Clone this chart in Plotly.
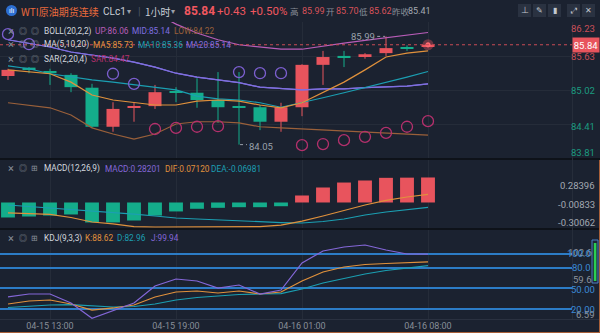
import plotly.graph_objects as go

# ---------------- data ----------------
times = ["04-15 11:00", "04-15 12:00", "04-15 13:00", "04-15 14:00", "04-15 15:00",
         "04-15 16:00", "04-15 17:00", "04-15 18:00", "04-15 19:00", "04-15 20:00",
         "04-15 21:00", "04-15 22:00", "04-15 23:00", "04-16 00:00", "04-16 01:00",
         "04-16 02:00", "04-16 03:00", "04-16 04:00", "04-16 06:00", "04-16 07:00",
         "04-16 08:00"]
tick_times = ["04-15 13:00", "04-15 19:00", "04-16 01:00", "04-16 08:00"]

opens = [85.28, 85.415, 85.37, 85.30, 85.07, 84.37, 84.71, 84.74, 85.00, 84.98, 84.85,
         84.73, 84.72, 84.46, 84.72, 85.48, 85.64, 85.62, 85.69, 85.79, 85.80]
closes = [85.39, 85.40, 85.33, 85.08, 84.37, 84.69, 84.73, 84.99, 84.98, 84.85, 84.72,
          84.71, 84.46, 84.72, 85.48, 85.62, 85.61, 85.67, 85.78, 85.77, 85.84]
highs = [85.41, 85.44, 85.41, 85.33, 85.14, 84.81, 84.81, 85.12, 85.08, 85.24, 85.35,
         85.35, 84.76, 84.80, 85.49, 85.73, 85.73, 85.69, 85.99, 85.83, 85.87]
lows = [85.21, 85.33, 85.12, 84.99, 84.35, 84.28, 84.46, 84.69, 84.81, 84.71, 84.44,
        84.05, 84.31, 84.28, 84.56, 85.12, 85.44, 85.59, 85.64, 85.73, 85.79]

boll_up = [86.80, 86.78, 86.76, 86.74, 86.72, 86.65, 86.57, 86.41, 86.21, 86.05, 85.93,
           85.84, 85.80, 85.76, 85.76, 85.82, 85.87, 85.92, 85.97, 86.02, 86.06]
boll_mid = [85.93, 85.87, 85.80, 85.71, 85.66, 85.60, 85.53, 85.44, 85.33, 85.26, 85.21,
            85.16, 85.08, 85.05, 85.03, 85.05, 85.05, 85.07, 85.08, 85.10, 85.14]
boll_low = [84.80, 84.76, 84.71, 84.58, 84.35, 84.24, 84.15, 84.24, 84.42, 84.46, 84.46,
            84.44, 84.37, 84.35, 84.33, 84.31, 84.30, 84.28, 84.26, 84.23, 84.22]
ma5 = [85.39, 85.35, 85.32, 85.17, 84.94, 84.85, 84.80, 84.76, 84.76, 84.83, 84.85,
       84.83, 84.76, 84.71, 84.80, 84.99, 85.17, 85.39, 85.62, 85.69, 85.73]
ma10 = [85.46, 85.41, 85.32, 85.26, 85.21, 85.17, 85.12, 85.07, 85.03, 84.92, 84.87,
        84.85, 84.80, 84.72, 84.80, 84.89, 84.98, 85.07, 85.17, 85.26, 85.36]
ma20 = [85.93, 85.87, 85.80, 85.71, 85.66, 85.60, 85.53, 85.44, 85.33, 85.26, 85.21,
        85.16, 85.08, 85.05, 85.03, 85.05, 85.05, 85.07, 85.08, 85.10, 85.14]
sar = [86.03, 85.85, None, None, None, 85.32, 85.14, 84.33, 84.35, 84.37, 84.38,
       85.35, 85.33, 85.33, 84.04, 84.06, 84.13, 84.19, 84.26, 84.37, 84.47]

macd_hist = [-0.169, -0.158, -0.147, -0.135, -0.225, -0.225, -0.203, -0.147, -0.101, -0.071,
             -0.060, -0.053, -0.053, -0.042, 0.079, 0.169, 0.225, 0.248, 0.278, 0.280, 0.282]
dif = [-0.118, -0.124, -0.135, -0.169, -0.220, -0.242, -0.271, -0.276, -0.276, -0.276, -0.276,
       -0.276, -0.271, -0.254, -0.209, -0.152, -0.090, -0.028, 0.023, 0.062, 0.092]
dea = [-0.028, -0.045, -0.062, -0.073, -0.090, -0.107, -0.130, -0.152, -0.175, -0.186, -0.197,
       -0.209, -0.220, -0.226, -0.231, -0.214, -0.186, -0.141, -0.107, -0.085, -0.056]

kdj_k = [27.3, 31.6, 33.1, 27.3, 18.5, 21.5, 25.8, 37.5, 44.7, 46.2, 43.3, 46.2, 41.8, 44.7,
         60.7, 73.8, 81.1, 84.7, 86.2, 86.9, 88.62]
kdj_d = [22.2, 24.4, 25.8, 26.5, 24.4, 22.9, 23.6, 27.3, 33.1, 36.7, 38.9, 41.1, 41.8, 42.5,
         49.1, 57.8, 64.4, 70.9, 76.0, 79.6, 82.96]
kdj_j = [37.5, 41.8, 41.8, 28.7, 6.59, 17.1, 28.7, 53.5, 63.6, 60.7, 50.5, 54.9, 41.8, 47.6,
         86.9, 104.4, 110.2, 113.1, 105.8, 100.0, 99.94]

main_grid = [86.23, 85.63, 85.02, 84.41, 83.81]
kdj_levels = [100, 80, 50, 20]

# ---------------- styles ----------------
W, H = 600, 333
BG = "#1b2230"
GRID = "#252c39"
RED = "#e8545d"
GREEN = "#14ad8b"
C_UP = "#b95db8"
C_MID = "#7f6fe0"
C_LOW = "#9a603a"
C_MA5 = "#e0913c"
C_MA10 = "#1b9fb2"
C_SAR_DN = "#7c5fd0"
C_SAR_UP = "#b4306c"
C_J = "#8467d8"
TXT = "#d3d7de"
GREY = "#8a909a"
FONT = "Roboto, Noto Sans, Noto Sans CJK SC"
CJK = "Noto Sans CJK SC, Noto Sans"
LEG = 8.3

x = list(range(len(times)))
tickvals = [times.index(t) for t in tick_times]


def px(v):
    return v / W


def py(v):
    return 1 - v / H


fig = go.Figure()

# candle wicks
for col, cond in ((RED, lambda o, c: c >= o), (GREEN, lambda o, c: c < o)):
    wx, wy = [], []
    for i in x:
        if cond(opens[i], closes[i]):
            wx += [i, i, None]
            wy += [lows[i], highs[i], None]
    fig.add_trace(go.Scatter(x=wx, y=wy, mode="lines", line=dict(color=col, width=1),
                             yaxis="y", hoverinfo="skip"))

# candle bodies
body_base = [min(o, c) for o, c in zip(opens, closes)]
body_h = [max(abs(c - o), 0.03) for o, c in zip(opens, closes)]
body_col = [RED if c >= o else GREEN for o, c in zip(opens, closes)]
fig.add_trace(go.Bar(x=x, y=body_h, base=body_base, width=0.62, marker=dict(color=body_col, line=dict(width=0)),
                     yaxis="y", hoverinfo="skip"))

# overlays
for arr, col in ((boll_low, C_LOW), (boll_mid, C_MID), (ma20, C_MID), (boll_up, C_UP), (ma10, C_MA10), (ma5, C_MA5)):
    fig.add_trace(go.Scatter(x=x, y=arr, mode="lines", line=dict(color=col, width=1.2), yaxis="y", hoverinfo="skip"))

sar_col = [C_SAR_DN if (s is not None and s > c) else C_SAR_UP for s, c in zip(sar, closes)]
fig.add_trace(go.Scatter(x=x, y=sar, mode="markers",
                         marker=dict(symbol="circle-open", size=11, color=sar_col, line=dict(width=1.3)),
                         yaxis="y", hoverinfo="skip"))

# last price glow
fig.add_trace(go.Scatter(x=[x[-1]], y=[closes[-1]], mode="markers",
                         marker=dict(size=11, color="rgba(255,90,100,0.35)"), yaxis="y", hoverinfo="skip"))
fig.add_trace(go.Scatter(x=[x[-1]], y=[closes[-1]], mode="markers",
                         marker=dict(size=5, color="#ff6a72"), yaxis="y", hoverinfo="skip"))

# MACD
fig.add_trace(go.Bar(x=x, y=macd_hist, width=0.66,
                     marker=dict(color=[RED if v >= 0 else GREEN for v in macd_hist], line=dict(width=0)),
                     yaxis="y2", hoverinfo="skip"))
fig.add_trace(go.Scatter(x=x, y=dea, mode="lines", line=dict(color=C_MA10, width=1.2), yaxis="y2", hoverinfo="skip"))
fig.add_trace(go.Scatter(x=x, y=dif, mode="lines", line=dict(color=C_MA5, width=1.2), yaxis="y2", hoverinfo="skip"))

# KDJ
fig.add_trace(go.Scatter(x=x, y=kdj_d, mode="lines", line=dict(color=C_MA10, width=1.2), yaxis="y3", hoverinfo="skip"))
fig.add_trace(go.Scatter(x=x, y=kdj_k, mode="lines", line=dict(color=C_MA5, width=1.2), yaxis="y3", hoverinfo="skip"))
fig.add_trace(go.Scatter(x=x, y=kdj_j, mode="lines", line=dict(color=C_J, width=1.2), yaxis="y3", hoverinfo="skip"))

ann = []
shapes = []


def text(s, x_px, y_px, color, size=9, anchor="left", family=FONT):
    ann.append(dict(text=s, x=px(x_px), y=py(y_px), xref="paper", yref="paper", xanchor=anchor,
                    yanchor="middle", showarrow=False, font=dict(color=color, size=size, family=family)))


# header
shapes.append(dict(type="circle", xref="paper", yref="paper", x0=px(6), x1=px(17), y0=py(16), y1=py(5),
                   fillcolor="#2d6fd3", line=dict(width=0)))
text("ılı", 11.5, 10.5, "#ffffff", 7, "center")
text("WTI原油期货连续", 19, 11, "#e96a3c", 10, family=CJK)
text("CLc1", 101, 11, "#c9ced6", 10)
text("▾", 129, 11, "#9aa0aa", 8, "center")
text("|", 139, 11, "#4a5262", 11, "center")
text("1小时", 143, 11, "#c9ced6", 10, family=CJK)
text("▾", 173, 11, "#9aa0aa", 8, "center")
ann.append(dict(text="<b>85.84</b>", x=px(182), y=py(11), xref="paper", yref="paper", xanchor="left",
                yanchor="middle", showarrow=False, font=dict(color="#f0575f", size=12, family=FONT)))
text("+0.43", 215, 11, "#f0575f", 11.5)
text("+0.50%", 248, 11, "#f0575f", 11.5)
text("高", 288, 11, GREY, 8.5, family=CJK)
text("85.99", 300, 11, "#d8525a", 9)
text("开", 323.5, 11, GREY, 8.5, family=CJK)
text("85.70", 334, 11, "#d8525a", 9)
text("低", 357, 11, GREY, 8.5, family=CJK)
text("85.62", 367, 11, "#d8525a", 9)
text("昨收", 390, 11, GREY, 8.5, family=CJK)
text("85.41", 406, 11, "#a4aab3", 9)

for (x0, x1), ic in zip(((518, 531), (533, 546), (548, 561), (567, 580), (582, 595)), ("⊥", "✎", "▮", "⤢", "✕")):
    shapes.append(dict(type="rect", xref="paper", yref="paper", x0=px(x0), x1=px(x1), y0=py(17), y1=py(4),
                       fillcolor="#2a3241", line=dict(width=0)))
    text(ic, (x0 + x1) / 2, 10.5, "#c3c8cf", 8, "center")


# legends
def icons(y, third="◎"):
    text("×", 11, y, GREY, 11, "center")
    text("◎", 22.5, y, GREY, 8, "center")
    text(third, 34.5, y, GREY, 8, "center")


icons(31)
text("BOLL(20,2,2)", 42, 31, TXT, LEG)
text("UP:86.06", 93, 31, C_UP, LEG)
text("MID:85.14", 130, 31, C_MID, LEG)
text("LOW:84.22", 172, 31, C_LOW, LEG)
icons(44.5)
text("MA(5,10,20)", 42, 44.5, TXT, LEG)
text("MA5:85.73", 91, 44.5, C_MA5, LEG)
text("MA10:85.36", 136, 44.5, C_MA10, LEG)
text("MA20:85.14", 184, 44.5, C_MID, LEG)
icons(59)
text("SAR(2,20,4)", 42, 59, TXT, LEG)
text("SAR:84.47", 89, 59, C_SAR_UP, LEG)
icons(168.5, "⊞")
text("MACD(12,26,9)", 42, 168.5, TXT, LEG)
text("MACD:0.28201", 103, 168.5, C_J, LEG)
text("DIF:0.07120", 163, 168.5, C_MA5, LEG)
text("DEA:-0.06981", 209, 168.5, C_MA10, LEG)
icons(238, "⊞")
text("KDJ(9,3,3)", 42, 238, TXT, LEG)
text("K:88.62", 83, 238, C_MA5, LEG)
text("D:82.96", 115, 238, C_MA10, LEG)
text("J:99.94", 149, 238, C_J, LEG)

# right axis labels - main
main_cols = ["#c94f58", "#c94f58", "#1c9c80", "#1c9c80", "#1c9c80"]
main_shift = [-6, 0, 0, -2, 6]
for v, c, s in zip(main_grid, main_cols, main_shift):
    ann.append(dict(text=f"{v:.2f}", x=px(597), y=v, xref="paper", yref="y", xanchor="right", yanchor="middle",
                    yshift=s, showarrow=False, font=dict(color=c, size=9.5, family=FONT)))
ann.append(dict(text=f"{closes[-1]:.2f}", x=px(585.5), y=closes[-1], xref="paper", yref="y", xanchor="center",
                yanchor="middle", showarrow=False, bgcolor=RED, width=24, height=12,
                font=dict(color="#ffffff", size=9.5, family=FONT)))
shapes.append(dict(type="line", xref="paper", yref="y", x0=0, x1=px(572), y0=closes[-1], y1=closes[-1],
                   line=dict(color="#c94b55", width=1, dash="dot")))

# high / low markers
ann.append(dict(text="85.99", x=18, y=highs[18], xref="x", yref="y", xanchor="right", yanchor="middle",
                xshift=-9, showarrow=False, font=dict(color="#9aa1ab", size=9.5, family=FONT)))
shapes.append(dict(type="line", xref="x", yref="y", x0=18 - 0.42, x1=18 - 0.05, y0=highs[18], y1=highs[18],
                   line=dict(color="#9aa1ab", width=1, dash="dot")))
ann.append(dict(text="84.05", x=11, y=lows[11], xref="x", yref="y", xanchor="left", yanchor="middle",
                xshift=8, yshift=-2, showarrow=False, font=dict(color="#9aa1ab", size=9.5, family=FONT)))
shapes.append(dict(type="line", xref="x", yref="y", x0=11 + 0.05, x1=11 + 0.38, y0=lows[11], y1=lows[11],
                   line=dict(color="#9aa1ab", width=1, dash="dot")))

# MACD axis labels
for v, t in ((0.197, "0.28396"), (-0.017, "-0.00833"), (-0.231, "-0.30062")):
    ann.append(dict(text=t, x=px(597), y=v, xref="paper", yref="y2", xanchor="right", yanchor="middle",
                    showarrow=False, font=dict(color="#a3a9b2", size=9.5, family=FONT)))

# KDJ axis labels (grey extreme values sit under the level labels, as in the source)
for v, t, c, xr, s in ((100, "102.6", "#8d939c", 594, 1), (100, "100.0", "#3b8ad6", 593, 0),
                       (80, "80.0", "#3b8ad6", 593, 0), (59.6, "59.6", "#8d939c", 594, 2),
                       (50, "50.00", "#3b8ad6", 597, -1), (20, "20.00", "#3b8ad6", 597, 0),
                       (6.59, "6.59", "#8d939c", 597, 4)):
    ann.append(dict(text=t, x=px(xr), y=v, xref="paper", yref="y3", xanchor="right", yanchor="middle",
                    yshift=s, showarrow=False, font=dict(color=c, size=9.5, family=FONT)))

# panel separators / borders
for yy in (159, 229):
    shapes.append(dict(type="line", xref="paper", yref="paper", x0=0, x1=1, y0=py(yy), y1=py(yy),
                       line=dict(color="#0e1219", width=2)))
shapes.append(dict(type="line", xref="paper", yref="paper", x0=0, x1=px(600), y0=py(319.5), y1=py(319.5),
                   line=dict(color="#2a3140", width=1)))
shapes.append(dict(type="line", xref="paper", yref="paper", x0=px(572.5), x1=px(572.5), y0=py(319), y1=py(22),
                   line=dict(color="#262d3a", width=1)))
shapes.append(dict(type="line", xref="paper", yref="paper", x0=px(599.5), x1=px(599.5), y0=0, y1=py(160),
                   line=dict(color="#a8603a", width=1)))
shapes.append(dict(type="line", xref="paper", yref="paper", x0=0, x1=1, y0=py(332.5), y1=py(332.5),
                   line=dict(color="#a8603a", width=1)))
# scrollbar
shapes.append(dict(type="rect", xref="paper", yref="paper", x0=px(592), x1=px(598), y0=py(283), y1=py(240),
                   fillcolor="#1d2636", line=dict(color="#4d7fc4", width=1)))
shapes.append(dict(type="rect", xref="paper", yref="paper", x0=px(593.8), x1=px(596.4), y0=py(281), y1=py(243),
                   fillcolor="#2bcf52", line=dict(width=0)))

fig.update_layout(
    width=W, height=H, margin=dict(l=0, r=0, t=0, b=0),
    paper_bgcolor=BG, plot_bgcolor=BG, showlegend=False, barmode="overlay", hovermode=False,
    font=dict(family=FONT),
    xaxis=dict(domain=[0, 572 / W], range=[-0.381, 26.857], anchor="y3", tickvals=tickvals, ticktext=tick_times,
               tickfont=dict(size=9, color="#878e98"), showgrid=True, gridcolor=GRID, zeroline=False,
               showline=False, ticks=""),
    yaxis=dict(domain=[py(158), py(22)], range=[83.81, 86.248], tickvals=main_grid, showticklabels=False,
               gridcolor=GRID, zeroline=False, anchor="x"),
    yaxis2=dict(domain=[py(228), py(160)], range=[-0.2875, 0.479], showgrid=False, showticklabels=False,
                zeroline=False, anchor="x"),
    yaxis3=dict(domain=[py(319), py(230)], range=[5.45, 134.9], tickvals=kdj_levels, showticklabels=False,
                gridcolor="#2c7cc6", gridwidth=1.5, zeroline=False, anchor="x"),
    shapes=shapes, annotations=ann,
)

fig.write_html("out.html")
